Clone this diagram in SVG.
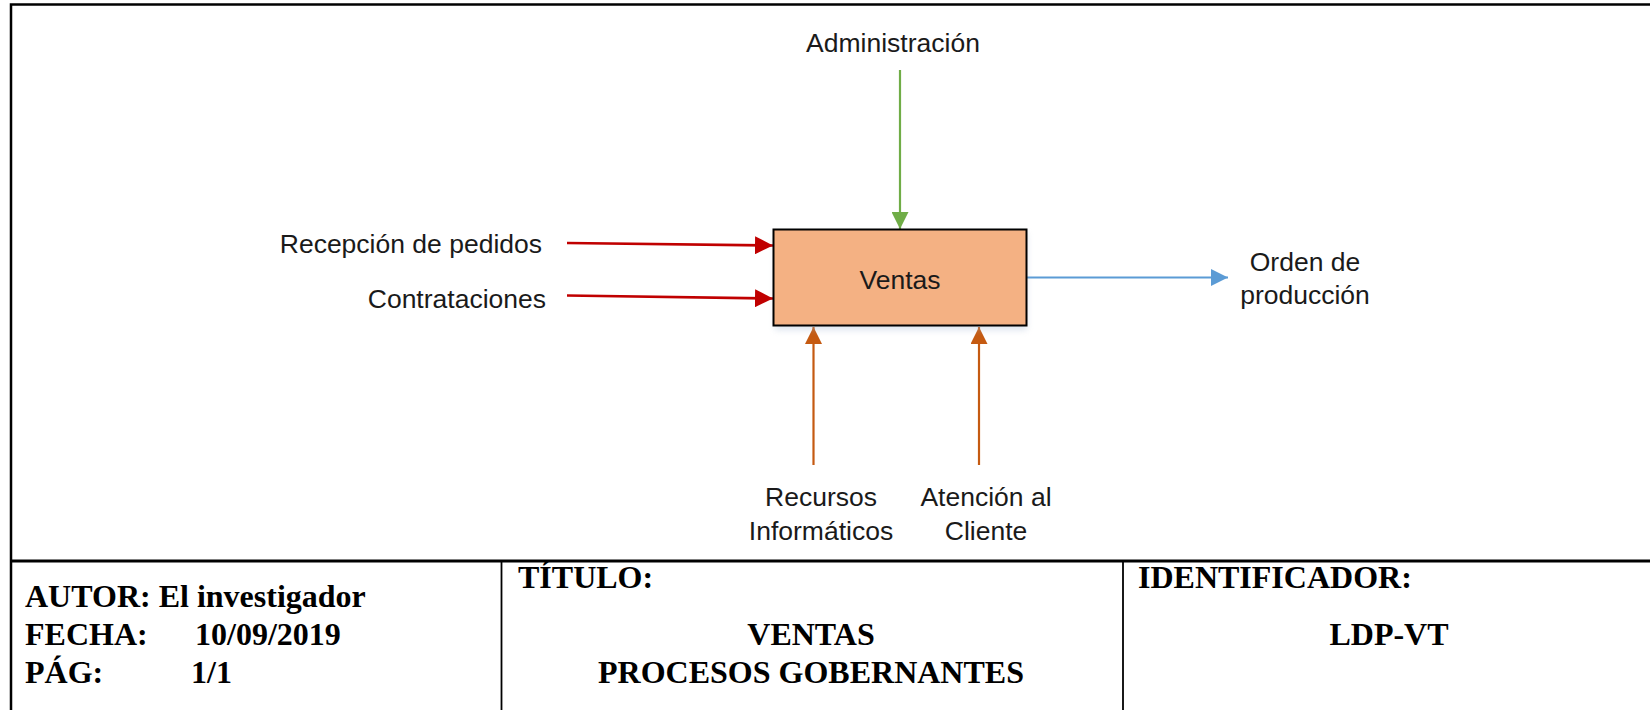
<svg xmlns="http://www.w3.org/2000/svg" width="1650" height="710" viewBox="0 0 1650 710">
<style>
.lbl{font-family:"Liberation Sans",Arial,sans-serif;font-size:26.5px;fill:#1a1a1a}
.tb{font-family:"Liberation Serif","Times New Roman",serif;font-size:32px;font-weight:bold;fill:#000}
.frame{fill:none;stroke:#000}
</style>
<defs>
<marker id="mRed" viewBox="0 0 10 10" refX="10" refY="5" markerWidth="18" markerHeight="18" markerUnits="userSpaceOnUse" orient="auto"><path d="M0,0 L10,5 L0,10 z" fill="#C00000"/></marker>
<marker id="mGreen" viewBox="0 0 10 10" refX="10" refY="5" markerWidth="17" markerHeight="17" markerUnits="userSpaceOnUse" orient="auto"><path d="M0,0 L10,5 L0,10 z" fill="#70AD47"/></marker>
<marker id="mBlue" viewBox="0 0 10 10" refX="10" refY="5" markerWidth="17" markerHeight="17" markerUnits="userSpaceOnUse" orient="auto"><path d="M0,0 L10,5 L0,10 z" fill="#5B9BD5"/></marker>
<marker id="mOrange" viewBox="0 0 10 10" refX="10" refY="5" markerWidth="17" markerHeight="17" markerUnits="userSpaceOnUse" orient="auto"><path d="M0,0 L10,5 L0,10 z" fill="#C55A11"/></marker>
<filter id="sh" x="-10%" y="-10%" width="120%" height="130%"><feGaussianBlur stdDeviation="3"/></filter>
</defs>
<rect width="1650" height="710" fill="#fff"/>
<g id="frame">
<path class="frame" d="M11,710 V4.5 H1650" stroke-width="2.5"/>
<line class="frame" x1="11" y1="561" x2="1650" y2="561" stroke-width="3"/>
<line class="frame" x1="501.5" y1="561" x2="501.5" y2="710" stroke-width="1.8"/>
<line class="frame" x1="1123" y1="561" x2="1123" y2="710" stroke-width="1.8"/>
</g>
<g id="connectors" fill="none" stroke-width="2.2">
<line x1="900" y1="70" x2="900" y2="229" stroke="#70AD47" marker-end="url(#mGreen)"/>
<line x1="567" y1="243" x2="773" y2="245.5" stroke="#C00000" stroke-width="2.6" marker-end="url(#mRed)"/>
<line x1="567" y1="295.5" x2="773" y2="298.5" stroke="#C00000" stroke-width="2.6" marker-end="url(#mRed)"/>
<line x1="1027" y1="277.5" x2="1228" y2="277.5" stroke="#5B9BD5" marker-end="url(#mBlue)"/>
<line x1="813.5" y1="465" x2="813.5" y2="327" stroke="#C55A11" marker-end="url(#mOrange)"/>
<line x1="979" y1="465" x2="979" y2="327" stroke="#C55A11" marker-end="url(#mOrange)"/>
</g>
<g id="node-ventas">
<rect x="775" y="233" width="252" height="97" fill="#9DB3CF" opacity="0.35" filter="url(#sh)"/>
<rect x="773.5" y="229.5" width="253" height="96" fill="#F4B183" stroke="#000" stroke-width="2"/>
<text class="lbl" x="900" y="289" text-anchor="middle">Ventas</text>
</g>
<g id="node-administracion"><text class="lbl" x="893" y="52" text-anchor="middle">Administración</text></g>
<g id="node-recepcion"><text class="lbl" x="542" y="253" text-anchor="end">Recepción de pedidos</text></g>
<g id="node-contrataciones"><text class="lbl" x="546" y="308" text-anchor="end">Contrataciones</text></g>
<g id="node-orden"><text class="lbl" text-anchor="middle"><tspan x="1305" y="271">Orden de</tspan><tspan x="1305" y="304">producción</tspan></text></g>
<g id="node-recursos"><text class="lbl" text-anchor="middle"><tspan x="821" y="506">Recursos</tspan><tspan x="821" y="540">Informáticos</tspan></text></g>
<g id="node-atencion"><text class="lbl" text-anchor="middle"><tspan x="986" y="506">Atención al</tspan><tspan x="986" y="540">Cliente</tspan></text></g>
<g id="titleblock">
<text class="tb" x="25" y="607">AUTOR: El investigador</text>
<text class="tb" x="25" y="645">FECHA:</text>
<text class="tb" x="195" y="645">10/09/2019</text>
<text class="tb" x="25" y="683">PÁG:</text>
<text class="tb" x="191" y="683">1/1</text>
<text class="tb" x="518" y="588">TÍTULO:</text>
<text class="tb" x="811" y="645" text-anchor="middle">VENTAS</text>
<text class="tb" x="811" y="683" text-anchor="middle">PROCESOS GOBERNANTES</text>
<text class="tb" x="1138" y="588">IDENTIFICADOR:</text>
<text class="tb" x="1389" y="645" text-anchor="middle">LDP-VT</text>
</g>
</svg>
